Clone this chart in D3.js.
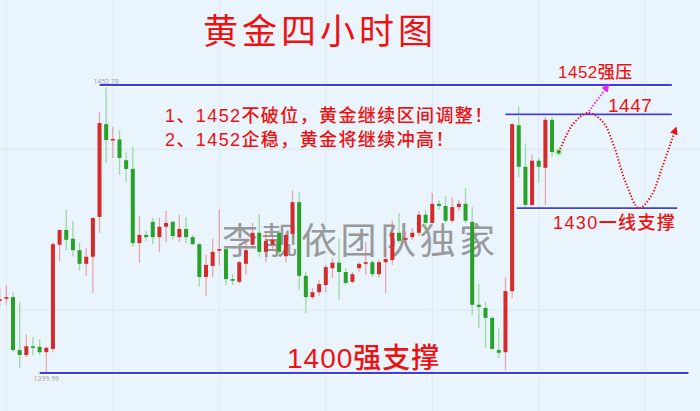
<!DOCTYPE html>
<html><head><meta charset="utf-8">
<script src="https://cdn.jsdelivr.net/npm/d3@7"></script>
<style>html,body{margin:0;padding:0;background:#eaf4fd;}svg{display:block}</style>
</head><body><svg id="c" width="700" height="411"></svg>
<script>
// ---- data (4-hour gold candles) ----
const opens  = [1413.2,1413.7,1413.9,1404.2,1403.3,1404.9,1404.8,1403.8,1404.4,1423.5,
                1426.2,1424.6,1422.5,1420.0,1421.3,1428.6,1445.6,1442.7,1442.8,1439.0,
                1437.4,1423.8,1425.3,1427.7,1424.9,1426.8,1427.7,1424.9,1426.4,1424.9,
                1423.6,1417.6,1419.6,1422.4,1422.7,1417.2,1416.7,1420.0,1423.5,1425.7,
                1422.2,1423.5,1425.7,1421.4,1425.5,1431.3,1417.8,1413.9,1414.8,1416.1,
                1419.2,1420.2,1418.5,1416.7,1419.2,1420.0,1420.3,1418.1,1420.3,1420.7,
                1425.7,1424.5,1424.9,1425.7,1429.0,1427.5,1431.0,1430.6,1427.9,1430.4,
                1431.0,1427.7,1412.5,1411.9,1410.1,1404.2,1403.8,1415.0,1445.4,1437.8,
                1430.8,1438.9,1437.6,1446.4];
const closes = [1413.5,1413.9,1404.2,1403.3,1404.9,1404.6,1403.8,1404.6,1423.6,1426.2,
                1424.4,1422.5,1420.0,1421.3,1428.4,1445.8,1442.7,1442.9,1439.4,1437.4,
                1423.8,1425.3,1424.9,1424.9,1426.8,1427.5,1425.1,1426.4,1424.9,1423.6,
                1417.6,1419.8,1422.2,1422.7,1417.2,1416.9,1420.3,1422.5,1425.7,1422.2,
                1424.2,1424.4,1422.2,1425.3,1431.3,1417.8,1413.9,1414.8,1416.3,1419.4,
                1420.2,1418.5,1416.5,1418.1,1420.0,1420.3,1418.1,1420.3,1420.9,1425.7,
                1424.2,1424.7,1425.7,1429.0,1427.5,1431.0,1430.6,1427.9,1430.4,1431.0,
                1427.9,1412.5,1412.1,1410.1,1404.4,1403.7,1415.0,1445.6,1437.8,1430.8,
                1438.9,1437.8,1446.4,1440.5];
const highs  = [1415.6,1416.1,1414.8,1413.0,1407.1,1406.6,1406.2,1404.9,1424.0,1426.4,
                1429.9,1427.9,1423.8,1422.9,1428.6,1447.8,1452.78,1445.1,1444.5,1440.5,
                1441.4,1428.8,1426.0,1428.4,1428.4,1429.7,1427.9,1429.0,1428.6,1425.3,
                1423.8,1421.6,1424.6,1429.9,1422.8,1418.1,1420.5,1424.4,1427.5,1429.1,
                1426.0,1425.3,1426.2,1425.7,1433.5,1433.2,1418.5,1415.6,1417.0,1419.8,
                1421.1,1424.6,1419.2,1418.5,1420.3,1424.0,1420.7,1420.7,1423.1,1427.9,
                1429.3,1426.0,1426.6,1429.7,1429.9,1433.0,1431.7,1432.4,1432.2,1431.7,
                1433.9,1430.4,1416.3,1413.0,1410.4,1408.1,1417.6,1445.8,1448.8,1442.0,
                1440.0,1439.4,1447.3,1447.3];
const lows   = [1412.1,1412.5,1403.8,1400.9,1402.9,1403.3,1403.3,1399.99,1403.8,1420.5,
                1422.5,1421.4,1418.7,1417.8,1414.7,1425.7,1438.5,1439.4,1436.3,1435.0,
                1423.1,1420.2,1424.2,1423.6,1422.2,1424.0,1424.4,1424.0,1423.8,1423.5,
                1415.8,1414.1,1417.6,1419.8,1416.1,1416.1,1416.4,1418.1,1422.9,1421.3,
                1420.3,1422.5,1421.4,1420.3,1424.7,1415.2,1411.0,1413.5,1414.1,1414.8,
                1417.4,1413.4,1416.1,1416.4,1418.5,1418.0,1417.6,1417.4,1414.7,1419.8,
                1423.8,1423.3,1424.4,1425.1,1425.8,1427.1,1429.9,1427.5,1427.5,1429.7,
                1427.5,1410.6,1408.2,1404.6,1404.2,1402.7,1400.5,1413.7,1435.9,1430.2,
                1430.6,1434.8,1430.8,1439.6];
const lastPrice = 1440.5;
const hiLabel = "1452.78", loLabel = "1399.99";
const levels = [
  {price:1452.78, from:15,  to:101},
  {price:1447.4,  from:76,  to:101},
  {price:1430.2,  from:77.7,to:101.8},
  {price:1399.99, from:6,   to:103.5}
];
const gridIdx = [1,17,33,49,65,81,97];
const gridPrice = [1441,1411.5];
// projected path: [candle index, price]
const pathUp   = [[88.25,1447.5],[91.25,1452.4]];
const pathWave = [[84.04,1440.5],[86.15,1445.6],[88.4,1447.65],[90.65,1446.0],[92.3,1441.6],
                  [94.1,1434.8],[96.06,1430.2],[97.87,1432.4],[99.67,1438.1],[101.5,1444.5]];

const svg = d3.select("#c");
const W=700,H=411;
const x = d3.scaleLinear().domain([0,84]).range([-0.3,558.7]);
const y = d3.scaleLinear().domain([1399.99,1452.78]).range([373,85]);

svg.append("rect").attr("width",W).attr("height",H).attr("fill","#eaf4fd");

const defs = svg.append("defs");
const glow = defs.append("radialGradient").attr("id","glow");
glow.append("stop").attr("offset","0%").attr("stop-color","#7ee07e").attr("stop-opacity",0.9);
glow.append("stop").attr("offset","100%").attr("stop-color","#b8f0b8").attr("stop-opacity",0);
function marker(id,color){
  defs.append("marker").attr("id",id).attr("viewBox","0 0 10 10").attr("refX",5).attr("refY",5)
    .attr("markerWidth",4).attr("markerHeight",4).attr("orient","auto")
    .append("path").attr("d","M0,0L10,5L0,10z").attr("fill",color);
}
marker("mRed","#e81414"); marker("mMag","#e628e6");

// grid
svg.append("g").selectAll("line").data(gridIdx).join("line")
  .attr("x1",d=>x(d)).attr("x2",d=>x(d)).attr("y1",0).attr("y2",H)
  .attr("stroke","#dce8f4").attr("stroke-width",1);
svg.append("g").selectAll("line").data(gridPrice).join("line")
  .attr("y1",d=>y(d)).attr("y2",d=>y(d)).attr("x1",0).attr("x2",W)
  .attr("stroke","#dce8f4").attr("stroke-width",1);

// title
svg.append("text").attr("x",203).attr("y",44).text("黄金四小时图")
  .attr("font-family","'Noto Sans CJK SC'").attr("font-size",35).attr("font-weight",400)
  .attr("letter-spacing",4).attr("fill","#ee1111");

// watermark
svg.append("text").attr("x",222).attr("y",254).text("李靓依团队独家")
  .attr("font-family","'Noto Sans CJK SC'").attr("font-size",36).attr("font-weight",400)
  .attr("letter-spacing",3.5).attr("fill","#8a8a8a").attr("opacity",0.85);

// candles
const data = opens.map((o,i)=>({i,o,c:closes[i],h:highs[i],l:lows[i]}));
const bw = 4;
const g = svg.append("g");
g.selectAll("line.w").data(data).join("line").attr("class","w")
  .attr("x1",d=>x(d.i)).attr("x2",d=>x(d.i)).attr("y1",d=>y(d.h)).attr("y2",d=>y(d.l))
  .attr("stroke",d=>d.c>=d.o?"#e06a6a":"#5cc25c").attr("stroke-opacity",0.55).attr("stroke-width",1.3);
g.selectAll("rect.b").data(data).join("rect").attr("class","b")
  .attr("x",d=>x(d.i)-bw/2).attr("width",bw)
  .attr("y",d=>y(Math.max(d.o,d.c)))
  .attr("height",d=>Math.max(1.6,Math.abs(y(d.o)-y(d.c))))
  .attr("fill",d=>d.c>=d.o?"#d42a2a":"#27a127");

// last price glow
svg.append("circle").attr("cx",x(84)).attr("cy",y(lastPrice)).attr("r",6).attr("fill","url(#glow)");
svg.append("circle").attr("cx",x(84)).attr("cy",y(lastPrice)).attr("r",2).attr("fill","#22b022");

// level lines
const lv = svg.append("g");
lv.selectAll("line.h").data(levels).join("line").attr("class","h")
  .attr("x1",d=>x(d.from)).attr("x2",d=>x(d.to)).attr("y1",d=>y(d.price)+1).attr("y2",d=>y(d.price)+1)
  .attr("stroke","#ffffff").attr("stroke-width",2.4);
lv.selectAll("line.l").data(levels).join("line").attr("class","l")
  .attr("x1",d=>x(d.from)).attr("x2",d=>x(d.to)).attr("y1",d=>y(d.price)).attr("y2",d=>y(d.price))
  .attr("stroke","#3c3cf0").attr("stroke-width",1.8);

// hi/lo labels
svg.append("text").attr("x",x(16)).attr("y",y(1452.78)-1.5).attr("text-anchor","middle").text(hiLabel)
  .attr("font-family","Roboto,sans-serif").attr("font-size",7).attr("fill","#a8a8a8");
svg.append("text").attr("x",x(7)).attr("y",y(1399.99)+8).attr("text-anchor","middle").text(loLabel)
  .attr("font-family","Roboto,sans-serif").attr("font-size",7).attr("fill","#a8a8a8");

// projection paths
const line = d3.line().x(d=>x(d[0])).y(d=>y(d[1]));
svg.append("path").attr("d",line(pathUp)).attr("fill","none").attr("stroke","#e628e6")
  .attr("stroke-width",2).attr("stroke-dasharray","1.4,1.8").attr("marker-end","url(#mMag)");
svg.append("path").attr("d",line.curve(d3.curveCatmullRom)(pathWave)).attr("fill","none").attr("stroke","#e81414")
  .attr("stroke-width",2).attr("stroke-dasharray","1.4,1.8").attr("marker-end","url(#mRed)");

// annotation texts
const red="#ee1111";
function t(xp,yp,str,size,ls,weight){
  svg.append("text").attr("x",xp).attr("y",yp).text(str)
    .attr("font-family","'Liberation Sans','Noto Sans CJK SC'").attr("font-size",size)
    .attr("letter-spacing",ls).attr("font-weight",weight||500).attr("fill",red);
}
t(165,122,"1、1452不破位，黄金继续区间调整！",18,1.4,500);
t(165,146,"2、1452企稳，黄金将继续冲高！",18,1.4,500);
t(558,78,"1452强压",17,0.5,500);
t(608,112,"1447",19,0.5,500);
t(553,229,"1430一线支撑",18,1.4,500);
t(287,368,"1400强支撑",28,1,500);
</script></body></html>
